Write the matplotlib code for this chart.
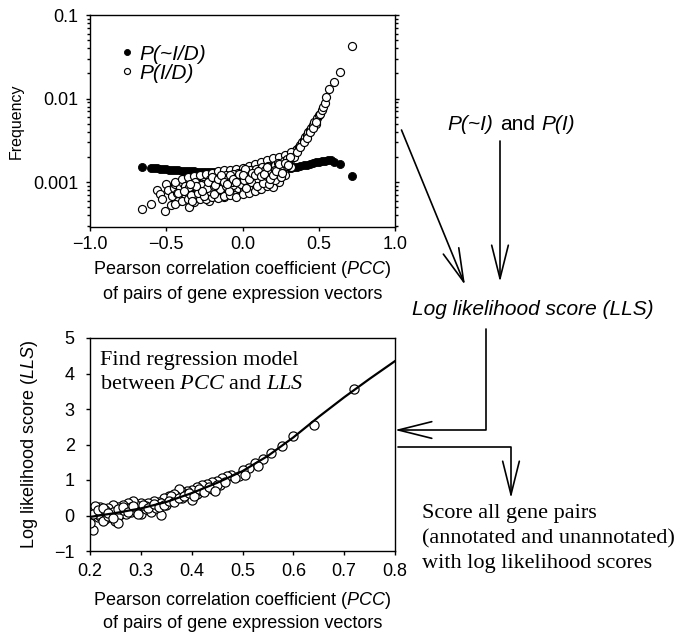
import matplotlib
matplotlib.use("Agg")
import matplotlib.pyplot as plt
from matplotlib.patches import FancyArrowPatch, ArrowStyle
from matplotlib.offsetbox import TextArea, HPacker, AnnotationBbox
from matplotlib.ticker import FixedLocator, NullFormatter, LogLocator

plt.rcParams["font.family"] = ["Liberation Sans", "DejaVu Sans"]
plt.rcParams["mathtext.fontset"] = "custom"
plt.rcParams["mathtext.rm"] = "Liberation Serif"
plt.rcParams["mathtext.it"] = "Liberation Serif:italic"
plt.rcParams["mathtext.sf"] = "Liberation Sans:italic"
plt.rcParams["axes.linewidth"] = 1.0

# top panel: P(~I/D), filled dots
not_int_x = [-0.66, -0.60, -0.58, -0.56, -0.54, -0.52, -0.50, -0.48, -0.46, -0.44,
             -0.42, -0.40, -0.38, -0.36, -0.34, -0.32, -0.30, -0.28, -0.26, -0.24,
             -0.22, -0.20, -0.18, -0.16, -0.14, -0.12, -0.10, -0.08, -0.06, -0.04,
             -0.02, 0.00, 0.02, 0.04, 0.06, 0.08, 0.10, 0.12, 0.14, 0.16,
             0.18, 0.20, 0.22, 0.24, 0.26, 0.28, 0.30, 0.32, 0.34, 0.36,
             0.38, 0.40, 0.42, 0.44, 0.46, 0.48, 0.50, 0.52, 0.54, 0.56,
             0.58, 0.60, 0.64, 0.72]
not_int_y = [0.00150, 0.00148, 0.00147, 0.00146, 0.00145, 0.00144, 0.00142, 0.00141, 0.00140, 0.00139,
             0.00138, 0.00136, 0.00136, 0.00135, 0.00134, 0.00134, 0.00133, 0.00133, 0.00132, 0.00132,
             0.00132, 0.00131, 0.00131, 0.00132, 0.00131, 0.00132, 0.00132, 0.00133, 0.00133, 0.00134,
             0.00134, 0.00135, 0.00136, 0.00136, 0.00137, 0.00138, 0.00139, 0.00140, 0.00141, 0.00142,
             0.00143, 0.00144, 0.00145, 0.00146, 0.00146, 0.00147, 0.00148, 0.00149, 0.00150, 0.00152,
             0.00155, 0.00158, 0.00162, 0.00166, 0.00170, 0.00172, 0.00175, 0.00178, 0.00180, 0.00186,
             0.00183, 0.00176, 0.00164, 0.00118]

# top panel: P(I/D), open circles
int_x = [-0.66, -0.60, -0.56, -0.54, -0.53, -0.51, -0.50, -0.49, -0.47, -0.46,
         -0.45, -0.44, -0.43, -0.42, -0.41, -0.40, -0.39, -0.38, -0.37, -0.36,
         -0.35, -0.34, -0.33, -0.32, -0.31, -0.30, -0.29, -0.28, -0.27, -0.26,
         -0.25, -0.24, -0.23, -0.22, -0.21, -0.20, -0.19, -0.18, -0.17, -0.16,
         -0.15, -0.14, -0.13, -0.12, -0.11, -0.10, -0.09, -0.08, -0.07, -0.06,
         -0.05, -0.04, -0.03, -0.02, -0.01, 0.00, 0.01, 0.02, 0.03, 0.04,
         0.05, 0.06, 0.07, 0.08, 0.09, 0.10, 0.11, 0.12, 0.13, 0.14,
         0.15, 0.16, 0.17, 0.18, 0.19, 0.20, 0.21, 0.22, 0.23, 0.24,
         0.25, 0.26, 0.27, 0.28, 0.29, 0.30, 0.31, 0.32, 0.33, 0.34,
         0.35, 0.36, 0.37, 0.38, 0.39, 0.40, 0.41, 0.42, 0.43, 0.44,
         0.45, 0.46, 0.47, 0.48, 0.49, 0.50, 0.51, 0.52, 0.53, 0.54,
         0.55, 0.57, 0.60, 0.64, 0.72,
         -0.44, -0.40, -0.36, -0.32, -0.28, -0.24, -0.20, -0.16, -0.12, -0.08,
         -0.04, 0.00, 0.04, 0.08, 0.12, 0.16, 0.20, 0.24, 0.28, 0.32,
         -0.44, -0.40, -0.36, -0.32, -0.28, -0.24, -0.20, -0.16, -0.12, -0.08,
         -0.04, 0.00, 0.04, 0.08, 0.12, 0.16, 0.20, 0.24, 0.28, 0.32,
         -0.42, -0.38, -0.34, -0.30, -0.26, -0.22, -0.18, -0.14, -0.10, -0.06,
         -0.02, 0.02, 0.06, 0.10, 0.14, 0.18, 0.22, 0.26, 0.30,
         0.34, 0.36, 0.38, 0.40, 0.42, 0.44, 0.46, 0.48,
         -0.35, -0.33, -0.31, -0.29, -0.27, -0.25, -0.23, -0.21, -0.19, -0.17,
         -0.15, -0.13, -0.11, -0.09, -0.07, -0.05, -0.03, -0.01, 0.01, 0.03,
         0.05, 0.07, 0.09, 0.11, 0.13, 0.15, 0.17, 0.19, 0.21, 0.23,
         0.25, 0.27, 0.29, 0.31,
         -0.03, 0.01, 0.05, 0.09, 0.13, 0.17, 0.21, 0.25, 0.29, 0.015,
         0.055, 0.095, 0.135, 0.175, 0.215, 0.255, -0.065, -0.105, -0.145, -0.185,
         -0.225, -0.265, -0.305, -0.345, -0.385,
         -0.20, -0.18, -0.16, -0.14, -0.12, -0.10, -0.08, -0.06, -0.04, -0.02,
         0.00, 0.02, 0.04, 0.06, 0.08, 0.10, 0.12, 0.14, 0.16, 0.18,
         0.20, 0.22, 0.24, 0.26, 0.28, 0.30]
int_y = [0.00048, 0.00055, 0.00080, 0.00072, 0.00062, 0.00045, 0.00096, 0.00080, 0.00053, 0.00068,
         0.00085, 0.00096, 0.00075, 0.00060, 0.00088, 0.00070, 0.00098, 0.00065, 0.00105, 0.00080,
         0.00051, 0.00072, 0.00092, 0.00105, 0.00065, 0.00078, 0.00112, 0.00095, 0.00068, 0.00085,
         0.00110, 0.00074, 0.00120, 0.00060, 0.00090, 0.00080, 0.00105, 0.00125, 0.00070, 0.00090,
         0.00115, 0.00080, 0.00098, 0.00066, 0.00125, 0.00085, 0.00110, 0.00075, 0.00135, 0.00095,
         0.00070, 0.00118, 0.00085, 0.00102, 0.00140, 0.00090, 0.00078, 0.00115, 0.00098, 0.00135,
         0.00085, 0.00108, 0.00150, 0.00095, 0.00125, 0.00105, 0.00082, 0.00140, 0.00115, 0.00160,
         0.00100, 0.00130, 0.00112, 0.00170, 0.00138, 0.00092, 0.00125, 0.00180, 0.00150, 0.00130,
         0.00190, 0.00160, 0.00140, 0.00195, 0.00170, 0.00205, 0.00185, 0.00215, 0.00210, 0.00220,
         0.00240, 0.00250, 0.00260, 0.00280, 0.00300, 0.00320, 0.00350, 0.00370, 0.00400, 0.00420,
         0.00450, 0.00480, 0.00520, 0.00500, 0.00580, 0.00630, 0.00660, 0.00720, 0.00800, 0.00880,
         0.01030, 0.01290, 0.01590, 0.02100, 0.04200,
         0.00100, 0.00110, 0.00115, 0.00118, 0.00120, 0.00125, 0.00130, 0.00135, 0.00138, 0.00140,
         0.00145, 0.00148, 0.00155, 0.00165, 0.00175, 0.00185, 0.00195, 0.00200, 0.00210, 0.00230,
         0.00055, 0.00060, 0.00062, 0.00058, 0.00063, 0.00062, 0.00066, 0.00064, 0.00068, 0.00070,
         0.00066, 0.00072, 0.00075, 0.00078, 0.00082, 0.00090, 0.00088, 0.00100, 0.00120, 0.00150,
         0.00075, 0.00090, 0.00070, 0.00085, 0.00095, 0.00078, 0.00100, 0.00088, 0.00105, 0.00092,
         0.00110, 0.00098, 0.00118, 0.00105, 0.00130, 0.00120, 0.00145, 0.00150, 0.00175,
         0.00200, 0.00230, 0.00260, 0.00300, 0.00340, 0.00400, 0.00440, 0.00530,
         0.00088, 0.00060, 0.00100, 0.00075, 0.00092, 0.00068, 0.00085, 0.00110, 0.00072, 0.00095,
         0.00082, 0.00115, 0.00090, 0.00078, 0.00100, 0.00120, 0.00128, 0.00095, 0.00130, 0.00120,
         0.00140, 0.00112, 0.00145, 0.00135, 0.00150, 0.00140, 0.00155, 0.00150, 0.00160, 0.00170,
         0.00165, 0.00180, 0.00190, 0.00200,
         0.00112, 0.00105, 0.00125, 0.00110, 0.00125, 0.00140, 0.00140, 0.00145, 0.00155, 0.00145,
         0.00100, 0.00090, 0.00098, 0.00095, 0.00105, 0.00115, 0.00125, 0.00120, 0.00105, 0.00090,
         0.00100, 0.00078, 0.00090, 0.00095, 0.00078,
         0.00115, 0.00092, 0.00108, 0.00120, 0.00100, 0.00095, 0.00122, 0.00108, 0.00100, 0.00125,
         0.00120, 0.00085, 0.00110, 0.00130, 0.00120, 0.00135, 0.00118, 0.00125, 0.00150, 0.00108,
         0.00120, 0.00135, 0.00165, 0.00130, 0.00170, 0.00160]

# bottom panel: LLS per PCC bin
lls_x = [0.72, 0.64, 0.60, 0.577, 0.557, 0.541, 0.525, 0.512, 0.500, 0.494,
         0.477, 0.470, 0.460, 0.456, 0.450, 0.440, 0.430, 0.420, 0.415, 0.410,
         0.400, 0.395, 0.390, 0.380, 0.375, 0.370, 0.365, 0.360, 0.355, 0.350,
         0.345, 0.340, 0.335, 0.330, 0.325, 0.320, 0.315, 0.310, 0.305, 0.300,
         0.295, 0.290, 0.285, 0.280, 0.275, 0.270, 0.265, 0.260, 0.255, 0.250,
         0.250, 0.245, 0.240, 0.235, 0.230, 0.225, 0.220, 0.215, 0.210, 0.205,
         0.200, 0.200, 0.210, 0.220, 0.230, 0.240, 0.260, 0.270, 0.280, 0.290,
         0.300, 0.310, 0.320, 0.330, 0.340, 0.350, 0.360, 0.380, 0.390, 0.400,
         0.410, 0.420, 0.440, 0.450, 0.215, 0.225, 0.235, 0.245, 0.255, 0.265,
         0.255,
         0.205, 0.215, 0.225, 0.235, 0.245, 0.255, 0.265, 0.275, 0.285, 0.295,
         0.305, 0.315, 0.325, 0.335, 0.345, 0.355, 0.365, 0.375, 0.385, 0.395,
         0.405, 0.415, 0.425, 0.435, 0.445, 0.465, 0.485, 0.505, 0.530]
lls_y = [3.55, 2.55, 2.24, 1.97, 1.77, 1.58, 1.47, 1.33, 1.28, 1.12,
         1.14, 1.12, 1.05, 0.86, 0.98, 0.95, 0.88, 0.85, 0.65, 0.80,
         0.72, 0.55, 0.70, 0.65, 0.75, 0.55, 0.60, 0.45, 0.55, 0.40,
         0.48, 0.01, 0.38, 0.30, 0.40, 0.25, 0.35, 0.28, 0.15, 0.35,
         0.20, 0.30, 0.40, 0.10, 0.35, 0.20, 0.30, 0.05, 0.25, -0.15,
         0.15, 0.30, 0.05, 0.20, -0.10, 0.10, 0.25, -0.05, 0.20, -0.41,
         0.10, -0.20, 0.28, 0.00, 0.15, -0.05, 0.12, 0.05, 0.25, 0.12,
         0.05, 0.18, 0.10, 0.22, 0.35, 0.30, 0.55, 0.50, 0.60, 0.45,
         0.60, 0.70, 0.75, 0.85, 0.05, -0.15, 0.00, 0.10, 0.00, 0.15,
         -0.20,
         0.05, 0.15, 0.22, 0.08, -0.08, 0.18, 0.25, 0.10, 0.28, 0.05,
         0.30, 0.20, 0.32, 0.25, 0.30, 0.42, 0.38, 0.50, 0.55, 0.62,
         0.55, 0.75, 0.65, 0.80, 0.70, 0.95, 1.05, 1.15, 1.40]

# regression curve
fit_x = [0.20, 0.25, 0.30, 0.35, 0.40, 0.45, 0.50, 0.55, 0.60, 0.65, 0.70, 0.75, 0.80]
fit_y = [-0.04, 0.07, 0.20, 0.38, 0.63, 0.92, 1.25, 1.68, 2.20, 2.78, 3.33, 3.85, 4.35]

W, H = 694, 632
fig = plt.figure(figsize=(W / 100, H / 100), dpi=100)


def fxy(x, y):
    # reference pixel (from top-left) -> figure fraction
    return (x / W, 1 - y / H)


# ---- top panel ----
ax1 = fig.add_axes([90 / W, 1 - 227 / H, 305 / W, 212 / H])
ax1.plot(not_int_x, not_int_y, "o", ms=5.8, mfc="black", mec="black", mew=0.6,
         label="P(~I/D)", zorder=2)
ax1.plot(int_x, int_y, "o", ms=5.8, mfc="white", mec="black", mew=0.85,
         label="P(I/D)", zorder=3)
ax1.set_yscale("log")
ax1.set_xlim(-1.0, 1.0)
ax1.set_ylim(2.9e-4, 0.1)
ax1.set_xticks([-1.0, -0.5, 0.0, 0.5, 1.0])
ax1.yaxis.set_major_locator(FixedLocator([0.001, 0.01, 0.1]))
ax1.set_yticklabels(["0.001", "0.01", "0.1"])
ax1.yaxis.set_minor_locator(LogLocator(base=10, subs=range(2, 10)))
ax1.yaxis.set_minor_formatter(NullFormatter())
ax1.tick_params(which="both", direction="out", right=True, labelsize=13, width=1)
ax1.tick_params(which="major", length=3.2)
ax1.tick_params(which="minor", length=2)
ax1.tick_params(axis="y", pad=5)
ax1.set_ylabel("Frequency", fontsize=11.5, labelpad=7)
ax1.set_xlabel("Pearson correlation coefficient ($\\mathsf{PCC}$)\n"
               "of pairs of gene expression vectors",
               fontsize=13, linespacing=1.5, labelpad=4)
ax1.legend(loc="upper left", bbox_to_anchor=(0.1, 0.86), frameon=False,
           prop={"style": "italic", "size": 15}, handlelength=0.6,
           handletextpad=0.3, labelspacing=0.0, borderpad=0, borderaxespad=0,
           markerscale=0.75)

# ---- bottom panel ----
ax2 = fig.add_axes([90 / W, 1 - 551 / H, 305 / W, 213 / H])
ax2.plot(lls_x, lls_y, "o", ms=6.6, mfc="white", mec="black", mew=0.85, zorder=2)
ax2.plot(fit_x, fit_y, "-", color="black", lw=1.6, zorder=3)
ax2.set_xlim(0.2, 0.8)
ax2.set_ylim(-1, 5)
ax2.set_xticks([0.2, 0.3, 0.4, 0.5, 0.6, 0.7, 0.8])
ax2.set_yticks([-1, 0, 1, 2, 3, 4, 5])
ax2.tick_params(direction="out", length=3, width=1, labelsize=13)
ax2.tick_params(axis="y", pad=8)
ax2.tick_params(axis="x", pad=6)
ax2.set_ylabel("Log likelihood score ($\\mathsf{LLS}$)", fontsize=13, labelpad=10)
ax2.set_xlabel("Pearson correlation coefficient ($\\mathsf{PCC}$)\n"
               "of pairs of gene expression vectors",
               fontsize=13, linespacing=1.3, labelpad=7)
ax2.text(10 / 305, (551 - 365) / 213, "Find regression model",
         transform=ax2.transAxes, family="Liberation Serif", fontsize=16, va="baseline")
ax2.text(10 / 305, (551 - 389) / 213, "between $\\mathit{PCC}$ and $\\mathit{LLS}$",
         transform=ax2.transAxes, family="Liberation Serif", fontsize=16, va="baseline")

# ---- flow chart text ----
parts = [TextArea("P(~I)", textprops=dict(style="italic", size=15)),
         TextArea("and", textprops=dict(size=15)),
         TextArea("P(I)", textprops=dict(style="italic", size=15))]
pack = HPacker(children=parts, align="baseline", pad=0, sep=5)
fig.add_artist(AnnotationBbox(pack, fxy(447, 134), xycoords="figure fraction",
                              box_alignment=(0, 0), frameon=False, pad=0))

fig.text(*fxy(412, 315), "Log likelihood score (LLS)", fontsize=15,
         style="italic", va="baseline", ha="left")

for text, base in [("Score all gene pairs", 518),
                   ("(annotated and unannotated)", 543),
                   ("with log likelihood scores", 568)]:
    fig.text(*fxy(422, base), text, family="Liberation Serif", fontsize=16,
             va="baseline", ha="left")

# ---- arrows ----
head = ArrowStyle("->", head_length=24, head_width=6)
arrows = [
    (fxy(401.5, 130), fxy(465, 285), "arc3,rad=0"),
    (fxy(500, 141), fxy(500, 282), "arc3,rad=0"),
    (fxy(486, 329), fxy(395, 430), "angle,angleA=90,angleB=0,rad=0"),
    (fxy(398, 447), fxy(511, 498), "angle,angleA=0,angleB=90,rad=0"),
]
for a, b, conn in arrows:
    fig.add_artist(FancyArrowPatch(a, b, transform=fig.transFigure, arrowstyle=head,
                                   mutation_scale=1, lw=1.2, color="black",
                                   connectionstyle=conn, shrinkA=0, shrinkB=0))

fig.savefig("out.png", dpi=100)
